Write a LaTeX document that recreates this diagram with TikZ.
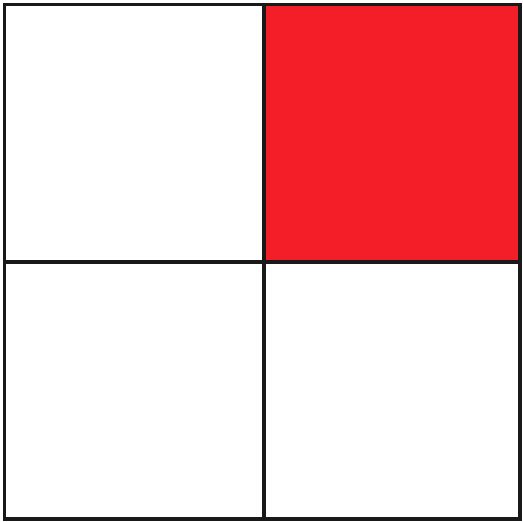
\documentclass[tikz,border=0pt]{standalone}
\definecolor{cellred}{RGB}{244,30,40}
\tikzset{gridline/.style={draw=black!90,line width=3.2pt}}
\begin{document}
\begin{tikzpicture}[x=1pt,y=-1pt]
\useasboundingbox (0,0) rectangle (523,522);
\fill[white] (0,0) rectangle (523,522);
\fill[cellred] (264,5) rectangle (520,262);
\draw[gridline] (4.5,4.5) rectangle (520,519);
\draw[gridline] (264,4.5) -- (264,519);
\draw[gridline] (4.5,262) -- (520,262);
\end{tikzpicture}
\end{document}
